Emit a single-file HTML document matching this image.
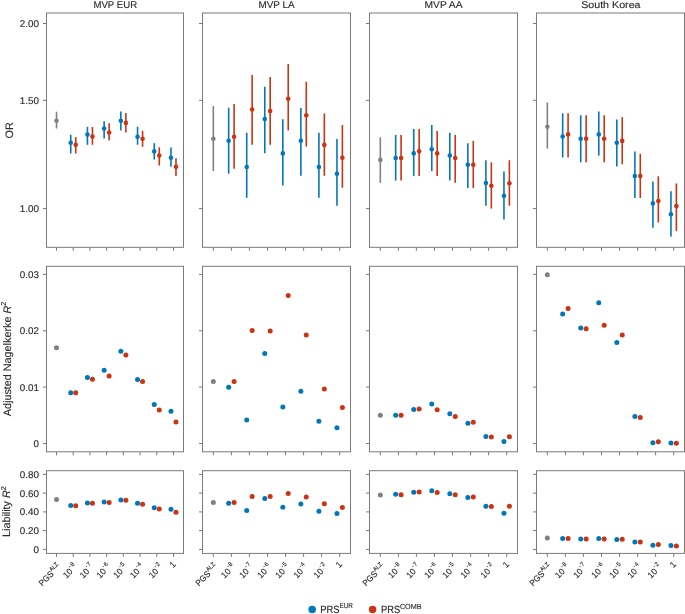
<!DOCTYPE html><html><head><meta charset="utf-8"><style>html,body{margin:0;padding:0;background:#fff;overflow:hidden;}svg{display:block;will-change:transform;}text{font-family:"Liberation Sans",sans-serif;text-rendering:geometricPrecision;stroke:#2b2b2b;stroke-width:0.14px;}</style></head><body>
<svg width="685" height="614" viewBox="0 0 685 614">
<rect width="685" height="614" fill="#fff"/>
<text x="115.25" y="7.8" font-size="9.8" fill="#2b2b2b" text-anchor="middle" textLength="43.7" lengthAdjust="spacingAndGlyphs">MVP EUR</text>
<text x="276.5" y="7.8" font-size="9.8" fill="#2b2b2b" text-anchor="middle" textLength="36.2" lengthAdjust="spacingAndGlyphs">MVP LA</text>
<text x="443.5" y="7.8" font-size="9.8" fill="#2b2b2b" text-anchor="middle" textLength="38.0" lengthAdjust="spacingAndGlyphs">MVP AA</text>
<text x="610.85" y="7.8" font-size="9.8" fill="#2b2b2b" text-anchor="middle" textLength="59.4" lengthAdjust="spacingAndGlyphs">South Korea</text>
<rect x="46.5" y="13.0" width="137.0" height="234.3" fill="none" stroke="#7a7a7a" stroke-width="1"/>
<line x1="43.0" y1="23.5" x2="46.5" y2="23.5" stroke="#7a7a7a" stroke-width="1"/>
<text x="38.9" y="26.9" font-size="9.8" fill="#2b2b2b" text-anchor="end">2.00</text>
<line x1="43.0" y1="100.3" x2="46.5" y2="100.3" stroke="#7a7a7a" stroke-width="1"/>
<text x="38.9" y="103.7" font-size="9.8" fill="#2b2b2b" text-anchor="end">1.50</text>
<line x1="43.0" y1="208.6" x2="46.5" y2="208.6" stroke="#7a7a7a" stroke-width="1"/>
<text x="38.9" y="212.0" font-size="9.8" fill="#2b2b2b" text-anchor="end">1.00</text>
<line x1="56.5" y1="247.3" x2="56.5" y2="250.8" stroke="#7a7a7a" stroke-width="1"/>
<line x1="73.2" y1="247.3" x2="73.2" y2="250.8" stroke="#7a7a7a" stroke-width="1"/>
<line x1="89.9" y1="247.3" x2="89.9" y2="250.8" stroke="#7a7a7a" stroke-width="1"/>
<line x1="106.6" y1="247.3" x2="106.6" y2="250.8" stroke="#7a7a7a" stroke-width="1"/>
<line x1="123.4" y1="247.3" x2="123.4" y2="250.8" stroke="#7a7a7a" stroke-width="1"/>
<line x1="140.1" y1="247.3" x2="140.1" y2="250.8" stroke="#7a7a7a" stroke-width="1"/>
<line x1="156.8" y1="247.3" x2="156.8" y2="250.8" stroke="#7a7a7a" stroke-width="1"/>
<line x1="173.5" y1="247.3" x2="173.5" y2="250.8" stroke="#7a7a7a" stroke-width="1"/>
<rect x="202.5" y="13.0" width="148.0" height="234.3" fill="none" stroke="#7a7a7a" stroke-width="1"/>
<line x1="199.0" y1="23.5" x2="202.5" y2="23.5" stroke="#7a7a7a" stroke-width="1"/>
<line x1="199.0" y1="100.3" x2="202.5" y2="100.3" stroke="#7a7a7a" stroke-width="1"/>
<line x1="199.0" y1="208.6" x2="202.5" y2="208.6" stroke="#7a7a7a" stroke-width="1"/>
<line x1="213.3" y1="247.3" x2="213.3" y2="250.8" stroke="#7a7a7a" stroke-width="1"/>
<line x1="231.4" y1="247.3" x2="231.4" y2="250.8" stroke="#7a7a7a" stroke-width="1"/>
<line x1="249.4" y1="247.3" x2="249.4" y2="250.8" stroke="#7a7a7a" stroke-width="1"/>
<line x1="267.5" y1="247.3" x2="267.5" y2="250.8" stroke="#7a7a7a" stroke-width="1"/>
<line x1="285.5" y1="247.3" x2="285.5" y2="250.8" stroke="#7a7a7a" stroke-width="1"/>
<line x1="303.6" y1="247.3" x2="303.6" y2="250.8" stroke="#7a7a7a" stroke-width="1"/>
<line x1="321.6" y1="247.3" x2="321.6" y2="250.8" stroke="#7a7a7a" stroke-width="1"/>
<line x1="339.7" y1="247.3" x2="339.7" y2="250.8" stroke="#7a7a7a" stroke-width="1"/>
<rect x="369.5" y="13.0" width="148.0" height="234.3" fill="none" stroke="#7a7a7a" stroke-width="1"/>
<line x1="366.0" y1="23.5" x2="369.5" y2="23.5" stroke="#7a7a7a" stroke-width="1"/>
<line x1="366.0" y1="100.3" x2="369.5" y2="100.3" stroke="#7a7a7a" stroke-width="1"/>
<line x1="366.0" y1="208.6" x2="369.5" y2="208.6" stroke="#7a7a7a" stroke-width="1"/>
<line x1="380.3" y1="247.3" x2="380.3" y2="250.8" stroke="#7a7a7a" stroke-width="1"/>
<line x1="398.4" y1="247.3" x2="398.4" y2="250.8" stroke="#7a7a7a" stroke-width="1"/>
<line x1="416.4" y1="247.3" x2="416.4" y2="250.8" stroke="#7a7a7a" stroke-width="1"/>
<line x1="434.5" y1="247.3" x2="434.5" y2="250.8" stroke="#7a7a7a" stroke-width="1"/>
<line x1="452.5" y1="247.3" x2="452.5" y2="250.8" stroke="#7a7a7a" stroke-width="1"/>
<line x1="470.6" y1="247.3" x2="470.6" y2="250.8" stroke="#7a7a7a" stroke-width="1"/>
<line x1="488.6" y1="247.3" x2="488.6" y2="250.8" stroke="#7a7a7a" stroke-width="1"/>
<line x1="506.7" y1="247.3" x2="506.7" y2="250.8" stroke="#7a7a7a" stroke-width="1"/>
<rect x="536.5" y="13.0" width="148.0" height="234.3" fill="none" stroke="#7a7a7a" stroke-width="1"/>
<line x1="533.0" y1="23.5" x2="536.5" y2="23.5" stroke="#7a7a7a" stroke-width="1"/>
<line x1="533.0" y1="100.3" x2="536.5" y2="100.3" stroke="#7a7a7a" stroke-width="1"/>
<line x1="533.0" y1="208.6" x2="536.5" y2="208.6" stroke="#7a7a7a" stroke-width="1"/>
<line x1="547.3" y1="247.3" x2="547.3" y2="250.8" stroke="#7a7a7a" stroke-width="1"/>
<line x1="565.4" y1="247.3" x2="565.4" y2="250.8" stroke="#7a7a7a" stroke-width="1"/>
<line x1="583.4" y1="247.3" x2="583.4" y2="250.8" stroke="#7a7a7a" stroke-width="1"/>
<line x1="601.5" y1="247.3" x2="601.5" y2="250.8" stroke="#7a7a7a" stroke-width="1"/>
<line x1="619.5" y1="247.3" x2="619.5" y2="250.8" stroke="#7a7a7a" stroke-width="1"/>
<line x1="637.6" y1="247.3" x2="637.6" y2="250.8" stroke="#7a7a7a" stroke-width="1"/>
<line x1="655.6" y1="247.3" x2="655.6" y2="250.8" stroke="#7a7a7a" stroke-width="1"/>
<line x1="673.7" y1="247.3" x2="673.7" y2="250.8" stroke="#7a7a7a" stroke-width="1"/>
<rect x="46.5" y="266.3" width="137.0" height="185.5" fill="none" stroke="#7a7a7a" stroke-width="1"/>
<line x1="43.0" y1="274.4" x2="46.5" y2="274.4" stroke="#7a7a7a" stroke-width="1"/>
<text x="38.9" y="277.8" font-size="9.8" fill="#2b2b2b" text-anchor="end">0.03</text>
<line x1="43.0" y1="330.8" x2="46.5" y2="330.8" stroke="#7a7a7a" stroke-width="1"/>
<text x="38.9" y="334.2" font-size="9.8" fill="#2b2b2b" text-anchor="end">0.02</text>
<line x1="43.0" y1="387.1" x2="46.5" y2="387.1" stroke="#7a7a7a" stroke-width="1"/>
<text x="38.9" y="390.5" font-size="9.8" fill="#2b2b2b" text-anchor="end">0.01</text>
<line x1="43.0" y1="443.5" x2="46.5" y2="443.5" stroke="#7a7a7a" stroke-width="1"/>
<text x="38.9" y="446.9" font-size="9.8" fill="#2b2b2b" text-anchor="end">0</text>
<line x1="56.5" y1="451.8" x2="56.5" y2="455.3" stroke="#7a7a7a" stroke-width="1"/>
<line x1="73.2" y1="451.8" x2="73.2" y2="455.3" stroke="#7a7a7a" stroke-width="1"/>
<line x1="89.9" y1="451.8" x2="89.9" y2="455.3" stroke="#7a7a7a" stroke-width="1"/>
<line x1="106.6" y1="451.8" x2="106.6" y2="455.3" stroke="#7a7a7a" stroke-width="1"/>
<line x1="123.4" y1="451.8" x2="123.4" y2="455.3" stroke="#7a7a7a" stroke-width="1"/>
<line x1="140.1" y1="451.8" x2="140.1" y2="455.3" stroke="#7a7a7a" stroke-width="1"/>
<line x1="156.8" y1="451.8" x2="156.8" y2="455.3" stroke="#7a7a7a" stroke-width="1"/>
<line x1="173.5" y1="451.8" x2="173.5" y2="455.3" stroke="#7a7a7a" stroke-width="1"/>
<rect x="202.5" y="266.3" width="148.0" height="185.5" fill="none" stroke="#7a7a7a" stroke-width="1"/>
<line x1="199.0" y1="274.4" x2="202.5" y2="274.4" stroke="#7a7a7a" stroke-width="1"/>
<line x1="199.0" y1="330.8" x2="202.5" y2="330.8" stroke="#7a7a7a" stroke-width="1"/>
<line x1="199.0" y1="387.1" x2="202.5" y2="387.1" stroke="#7a7a7a" stroke-width="1"/>
<line x1="199.0" y1="443.5" x2="202.5" y2="443.5" stroke="#7a7a7a" stroke-width="1"/>
<line x1="213.3" y1="451.8" x2="213.3" y2="455.3" stroke="#7a7a7a" stroke-width="1"/>
<line x1="231.4" y1="451.8" x2="231.4" y2="455.3" stroke="#7a7a7a" stroke-width="1"/>
<line x1="249.4" y1="451.8" x2="249.4" y2="455.3" stroke="#7a7a7a" stroke-width="1"/>
<line x1="267.5" y1="451.8" x2="267.5" y2="455.3" stroke="#7a7a7a" stroke-width="1"/>
<line x1="285.5" y1="451.8" x2="285.5" y2="455.3" stroke="#7a7a7a" stroke-width="1"/>
<line x1="303.6" y1="451.8" x2="303.6" y2="455.3" stroke="#7a7a7a" stroke-width="1"/>
<line x1="321.6" y1="451.8" x2="321.6" y2="455.3" stroke="#7a7a7a" stroke-width="1"/>
<line x1="339.7" y1="451.8" x2="339.7" y2="455.3" stroke="#7a7a7a" stroke-width="1"/>
<rect x="369.5" y="266.3" width="148.0" height="185.5" fill="none" stroke="#7a7a7a" stroke-width="1"/>
<line x1="366.0" y1="274.4" x2="369.5" y2="274.4" stroke="#7a7a7a" stroke-width="1"/>
<line x1="366.0" y1="330.8" x2="369.5" y2="330.8" stroke="#7a7a7a" stroke-width="1"/>
<line x1="366.0" y1="387.1" x2="369.5" y2="387.1" stroke="#7a7a7a" stroke-width="1"/>
<line x1="366.0" y1="443.5" x2="369.5" y2="443.5" stroke="#7a7a7a" stroke-width="1"/>
<line x1="380.3" y1="451.8" x2="380.3" y2="455.3" stroke="#7a7a7a" stroke-width="1"/>
<line x1="398.4" y1="451.8" x2="398.4" y2="455.3" stroke="#7a7a7a" stroke-width="1"/>
<line x1="416.4" y1="451.8" x2="416.4" y2="455.3" stroke="#7a7a7a" stroke-width="1"/>
<line x1="434.5" y1="451.8" x2="434.5" y2="455.3" stroke="#7a7a7a" stroke-width="1"/>
<line x1="452.5" y1="451.8" x2="452.5" y2="455.3" stroke="#7a7a7a" stroke-width="1"/>
<line x1="470.6" y1="451.8" x2="470.6" y2="455.3" stroke="#7a7a7a" stroke-width="1"/>
<line x1="488.6" y1="451.8" x2="488.6" y2="455.3" stroke="#7a7a7a" stroke-width="1"/>
<line x1="506.7" y1="451.8" x2="506.7" y2="455.3" stroke="#7a7a7a" stroke-width="1"/>
<rect x="536.5" y="266.3" width="148.0" height="185.5" fill="none" stroke="#7a7a7a" stroke-width="1"/>
<line x1="533.0" y1="274.4" x2="536.5" y2="274.4" stroke="#7a7a7a" stroke-width="1"/>
<line x1="533.0" y1="330.8" x2="536.5" y2="330.8" stroke="#7a7a7a" stroke-width="1"/>
<line x1="533.0" y1="387.1" x2="536.5" y2="387.1" stroke="#7a7a7a" stroke-width="1"/>
<line x1="533.0" y1="443.5" x2="536.5" y2="443.5" stroke="#7a7a7a" stroke-width="1"/>
<line x1="547.3" y1="451.8" x2="547.3" y2="455.3" stroke="#7a7a7a" stroke-width="1"/>
<line x1="565.4" y1="451.8" x2="565.4" y2="455.3" stroke="#7a7a7a" stroke-width="1"/>
<line x1="583.4" y1="451.8" x2="583.4" y2="455.3" stroke="#7a7a7a" stroke-width="1"/>
<line x1="601.5" y1="451.8" x2="601.5" y2="455.3" stroke="#7a7a7a" stroke-width="1"/>
<line x1="619.5" y1="451.8" x2="619.5" y2="455.3" stroke="#7a7a7a" stroke-width="1"/>
<line x1="637.6" y1="451.8" x2="637.6" y2="455.3" stroke="#7a7a7a" stroke-width="1"/>
<line x1="655.6" y1="451.8" x2="655.6" y2="455.3" stroke="#7a7a7a" stroke-width="1"/>
<line x1="673.7" y1="451.8" x2="673.7" y2="455.3" stroke="#7a7a7a" stroke-width="1"/>
<rect x="46.5" y="470.7" width="137.0" height="82.69999999999999" fill="none" stroke="#7a7a7a" stroke-width="1"/>
<line x1="43.0" y1="474.4" x2="46.5" y2="474.4" stroke="#7a7a7a" stroke-width="1"/>
<text x="38.9" y="477.8" font-size="9.8" fill="#2b2b2b" text-anchor="end">0.80</text>
<line x1="43.0" y1="493.1" x2="46.5" y2="493.1" stroke="#7a7a7a" stroke-width="1"/>
<text x="38.9" y="496.5" font-size="9.8" fill="#2b2b2b" text-anchor="end">0.60</text>
<line x1="43.0" y1="511.9" x2="46.5" y2="511.9" stroke="#7a7a7a" stroke-width="1"/>
<text x="38.9" y="515.3" font-size="9.8" fill="#2b2b2b" text-anchor="end">0.40</text>
<line x1="43.0" y1="530.6" x2="46.5" y2="530.6" stroke="#7a7a7a" stroke-width="1"/>
<text x="38.9" y="534.0" font-size="9.8" fill="#2b2b2b" text-anchor="end">0.20</text>
<line x1="43.0" y1="549.4" x2="46.5" y2="549.4" stroke="#7a7a7a" stroke-width="1"/>
<text x="38.9" y="552.8" font-size="9.8" fill="#2b2b2b" text-anchor="end">0</text>
<line x1="56.5" y1="553.4" x2="56.5" y2="556.9" stroke="#7a7a7a" stroke-width="1"/>
<line x1="73.2" y1="553.4" x2="73.2" y2="556.9" stroke="#7a7a7a" stroke-width="1"/>
<line x1="89.9" y1="553.4" x2="89.9" y2="556.9" stroke="#7a7a7a" stroke-width="1"/>
<line x1="106.6" y1="553.4" x2="106.6" y2="556.9" stroke="#7a7a7a" stroke-width="1"/>
<line x1="123.4" y1="553.4" x2="123.4" y2="556.9" stroke="#7a7a7a" stroke-width="1"/>
<line x1="140.1" y1="553.4" x2="140.1" y2="556.9" stroke="#7a7a7a" stroke-width="1"/>
<line x1="156.8" y1="553.4" x2="156.8" y2="556.9" stroke="#7a7a7a" stroke-width="1"/>
<line x1="173.5" y1="553.4" x2="173.5" y2="556.9" stroke="#7a7a7a" stroke-width="1"/>
<rect x="202.5" y="470.7" width="148.0" height="82.69999999999999" fill="none" stroke="#7a7a7a" stroke-width="1"/>
<line x1="199.0" y1="474.4" x2="202.5" y2="474.4" stroke="#7a7a7a" stroke-width="1"/>
<line x1="199.0" y1="493.1" x2="202.5" y2="493.1" stroke="#7a7a7a" stroke-width="1"/>
<line x1="199.0" y1="511.9" x2="202.5" y2="511.9" stroke="#7a7a7a" stroke-width="1"/>
<line x1="199.0" y1="530.6" x2="202.5" y2="530.6" stroke="#7a7a7a" stroke-width="1"/>
<line x1="199.0" y1="549.4" x2="202.5" y2="549.4" stroke="#7a7a7a" stroke-width="1"/>
<line x1="213.3" y1="553.4" x2="213.3" y2="556.9" stroke="#7a7a7a" stroke-width="1"/>
<line x1="231.4" y1="553.4" x2="231.4" y2="556.9" stroke="#7a7a7a" stroke-width="1"/>
<line x1="249.4" y1="553.4" x2="249.4" y2="556.9" stroke="#7a7a7a" stroke-width="1"/>
<line x1="267.5" y1="553.4" x2="267.5" y2="556.9" stroke="#7a7a7a" stroke-width="1"/>
<line x1="285.5" y1="553.4" x2="285.5" y2="556.9" stroke="#7a7a7a" stroke-width="1"/>
<line x1="303.6" y1="553.4" x2="303.6" y2="556.9" stroke="#7a7a7a" stroke-width="1"/>
<line x1="321.6" y1="553.4" x2="321.6" y2="556.9" stroke="#7a7a7a" stroke-width="1"/>
<line x1="339.7" y1="553.4" x2="339.7" y2="556.9" stroke="#7a7a7a" stroke-width="1"/>
<rect x="369.5" y="470.7" width="148.0" height="82.69999999999999" fill="none" stroke="#7a7a7a" stroke-width="1"/>
<line x1="366.0" y1="474.4" x2="369.5" y2="474.4" stroke="#7a7a7a" stroke-width="1"/>
<line x1="366.0" y1="493.1" x2="369.5" y2="493.1" stroke="#7a7a7a" stroke-width="1"/>
<line x1="366.0" y1="511.9" x2="369.5" y2="511.9" stroke="#7a7a7a" stroke-width="1"/>
<line x1="366.0" y1="530.6" x2="369.5" y2="530.6" stroke="#7a7a7a" stroke-width="1"/>
<line x1="366.0" y1="549.4" x2="369.5" y2="549.4" stroke="#7a7a7a" stroke-width="1"/>
<line x1="380.3" y1="553.4" x2="380.3" y2="556.9" stroke="#7a7a7a" stroke-width="1"/>
<line x1="398.4" y1="553.4" x2="398.4" y2="556.9" stroke="#7a7a7a" stroke-width="1"/>
<line x1="416.4" y1="553.4" x2="416.4" y2="556.9" stroke="#7a7a7a" stroke-width="1"/>
<line x1="434.5" y1="553.4" x2="434.5" y2="556.9" stroke="#7a7a7a" stroke-width="1"/>
<line x1="452.5" y1="553.4" x2="452.5" y2="556.9" stroke="#7a7a7a" stroke-width="1"/>
<line x1="470.6" y1="553.4" x2="470.6" y2="556.9" stroke="#7a7a7a" stroke-width="1"/>
<line x1="488.6" y1="553.4" x2="488.6" y2="556.9" stroke="#7a7a7a" stroke-width="1"/>
<line x1="506.7" y1="553.4" x2="506.7" y2="556.9" stroke="#7a7a7a" stroke-width="1"/>
<rect x="536.5" y="470.7" width="148.0" height="82.69999999999999" fill="none" stroke="#7a7a7a" stroke-width="1"/>
<line x1="533.0" y1="474.4" x2="536.5" y2="474.4" stroke="#7a7a7a" stroke-width="1"/>
<line x1="533.0" y1="493.1" x2="536.5" y2="493.1" stroke="#7a7a7a" stroke-width="1"/>
<line x1="533.0" y1="511.9" x2="536.5" y2="511.9" stroke="#7a7a7a" stroke-width="1"/>
<line x1="533.0" y1="530.6" x2="536.5" y2="530.6" stroke="#7a7a7a" stroke-width="1"/>
<line x1="533.0" y1="549.4" x2="536.5" y2="549.4" stroke="#7a7a7a" stroke-width="1"/>
<line x1="547.3" y1="553.4" x2="547.3" y2="556.9" stroke="#7a7a7a" stroke-width="1"/>
<line x1="565.4" y1="553.4" x2="565.4" y2="556.9" stroke="#7a7a7a" stroke-width="1"/>
<line x1="583.4" y1="553.4" x2="583.4" y2="556.9" stroke="#7a7a7a" stroke-width="1"/>
<line x1="601.5" y1="553.4" x2="601.5" y2="556.9" stroke="#7a7a7a" stroke-width="1"/>
<line x1="619.5" y1="553.4" x2="619.5" y2="556.9" stroke="#7a7a7a" stroke-width="1"/>
<line x1="637.6" y1="553.4" x2="637.6" y2="556.9" stroke="#7a7a7a" stroke-width="1"/>
<line x1="655.6" y1="553.4" x2="655.6" y2="556.9" stroke="#7a7a7a" stroke-width="1"/>
<line x1="673.7" y1="553.4" x2="673.7" y2="556.9" stroke="#7a7a7a" stroke-width="1"/>
<text transform="translate(12.9,130.3) rotate(-90)" font-size="10.8" fill="#2b2b2b" text-anchor="middle">OR</text>
<text transform="translate(10.9,359.0) rotate(-90)" font-size="10.8" fill="#2b2b2b" text-anchor="middle">Adjusted Nagelkerke <tspan font-style="italic">R</tspan><tspan font-size="7.2" dy="-4.6">2</tspan></text>
<text transform="translate(10.4,511.6) rotate(-90)" font-size="10.8" fill="#2b2b2b" text-anchor="middle">Liability <tspan font-style="italic">R</tspan><tspan font-size="7.2" dy="-4.6">2</tspan></text>
<line x1="56.52" y1="111.7" x2="56.52" y2="128.5" stroke="#808080" stroke-width="1.6"/>
<circle cx="56.52" cy="120.7" r="2.3" fill="#808080"/>
<line x1="70.73" y1="134.8" x2="70.73" y2="153.5" stroke="#0077BB" stroke-width="1.6"/>
<circle cx="70.73" cy="142.8" r="2.3" fill="#0077BB"/>
<line x1="75.74" y1="137.1" x2="75.74" y2="153.5" stroke="#CC3311" stroke-width="1.6"/>
<circle cx="75.74" cy="144.8" r="2.3" fill="#CC3311"/>
<line x1="87.43" y1="126.9" x2="87.43" y2="144.8" stroke="#0077BB" stroke-width="1.6"/>
<circle cx="87.43" cy="134.6" r="2.3" fill="#0077BB"/>
<line x1="92.45" y1="127.0" x2="92.45" y2="144.8" stroke="#CC3311" stroke-width="1.6"/>
<circle cx="92.45" cy="136.6" r="2.3" fill="#CC3311"/>
<line x1="104.14" y1="121.2" x2="104.14" y2="138.6" stroke="#0077BB" stroke-width="1.6"/>
<circle cx="104.14" cy="128.6" r="2.3" fill="#0077BB"/>
<line x1="109.15" y1="123.2" x2="109.15" y2="140.6" stroke="#CC3311" stroke-width="1.6"/>
<circle cx="109.15" cy="132.5" r="2.3" fill="#CC3311"/>
<line x1="120.85" y1="111.4" x2="120.85" y2="130.6" stroke="#0077BB" stroke-width="1.6"/>
<circle cx="120.85" cy="120.7" r="2.3" fill="#0077BB"/>
<line x1="125.86" y1="113.1" x2="125.86" y2="132.5" stroke="#CC3311" stroke-width="1.6"/>
<circle cx="125.86" cy="122.9" r="2.3" fill="#CC3311"/>
<line x1="137.55" y1="126.8" x2="137.55" y2="144.7" stroke="#0077BB" stroke-width="1.6"/>
<circle cx="137.55" cy="136.8" r="2.3" fill="#0077BB"/>
<line x1="142.57" y1="130.8" x2="142.57" y2="146.8" stroke="#CC3311" stroke-width="1.6"/>
<circle cx="142.57" cy="138.8" r="2.3" fill="#CC3311"/>
<line x1="154.26" y1="143.2" x2="154.26" y2="159.6" stroke="#0077BB" stroke-width="1.6"/>
<circle cx="154.26" cy="151.4" r="2.3" fill="#0077BB"/>
<line x1="159.27" y1="147.3" x2="159.27" y2="165.5" stroke="#CC3311" stroke-width="1.6"/>
<circle cx="159.27" cy="155.6" r="2.3" fill="#CC3311"/>
<line x1="170.97" y1="147.4" x2="170.97" y2="166.8" stroke="#0077BB" stroke-width="1.6"/>
<circle cx="170.97" cy="157.8" r="2.3" fill="#0077BB"/>
<line x1="175.98" y1="158.3" x2="175.98" y2="175.9" stroke="#CC3311" stroke-width="1.6"/>
<circle cx="175.98" cy="166.8" r="2.3" fill="#CC3311"/>
<line x1="213.33" y1="106.1" x2="213.33" y2="171.1" stroke="#808080" stroke-width="1.6"/>
<circle cx="213.33" cy="138.7" r="2.3" fill="#808080"/>
<line x1="228.67" y1="107.7" x2="228.67" y2="173.7" stroke="#0077BB" stroke-width="1.6"/>
<circle cx="228.67" cy="140.8" r="2.3" fill="#0077BB"/>
<line x1="234.09" y1="104.1" x2="234.09" y2="168.7" stroke="#CC3311" stroke-width="1.6"/>
<circle cx="234.09" cy="136.7" r="2.3" fill="#CC3311"/>
<line x1="246.72" y1="132.7" x2="246.72" y2="197.8" stroke="#0077BB" stroke-width="1.6"/>
<circle cx="246.72" cy="167.0" r="2.3" fill="#0077BB"/>
<line x1="252.13" y1="75.1" x2="252.13" y2="144.8" stroke="#CC3311" stroke-width="1.6"/>
<circle cx="252.13" cy="109.5" r="2.3" fill="#CC3311"/>
<line x1="264.77" y1="86.7" x2="264.77" y2="153.2" stroke="#0077BB" stroke-width="1.6"/>
<circle cx="264.77" cy="119.0" r="2.3" fill="#0077BB"/>
<line x1="270.18" y1="77.0" x2="270.18" y2="144.8" stroke="#CC3311" stroke-width="1.6"/>
<circle cx="270.18" cy="111.1" r="2.3" fill="#CC3311"/>
<line x1="282.82" y1="119.3" x2="282.82" y2="185.5" stroke="#0077BB" stroke-width="1.6"/>
<circle cx="282.82" cy="153.4" r="2.3" fill="#0077BB"/>
<line x1="288.23" y1="64.1" x2="288.23" y2="130.4" stroke="#CC3311" stroke-width="1.6"/>
<circle cx="288.23" cy="98.8" r="2.3" fill="#CC3311"/>
<line x1="300.87" y1="107.9" x2="300.87" y2="175.8" stroke="#0077BB" stroke-width="1.6"/>
<circle cx="300.87" cy="140.8" r="2.3" fill="#0077BB"/>
<line x1="306.28" y1="81.7" x2="306.28" y2="146.5" stroke="#CC3311" stroke-width="1.6"/>
<circle cx="306.28" cy="115.3" r="2.3" fill="#CC3311"/>
<line x1="318.91" y1="132.7" x2="318.91" y2="197.8" stroke="#0077BB" stroke-width="1.6"/>
<circle cx="318.91" cy="167.0" r="2.3" fill="#0077BB"/>
<line x1="324.33" y1="113.4" x2="324.33" y2="175.8" stroke="#CC3311" stroke-width="1.6"/>
<circle cx="324.33" cy="144.9" r="2.3" fill="#CC3311"/>
<line x1="336.96" y1="138.9" x2="336.96" y2="205.7" stroke="#0077BB" stroke-width="1.6"/>
<circle cx="336.96" cy="173.8" r="2.3" fill="#0077BB"/>
<line x1="342.38" y1="125.0" x2="342.38" y2="187.7" stroke="#CC3311" stroke-width="1.6"/>
<circle cx="342.38" cy="157.8" r="2.3" fill="#CC3311"/>
<line x1="380.33" y1="137.3" x2="380.33" y2="182.9" stroke="#808080" stroke-width="1.6"/>
<circle cx="380.33" cy="159.9" r="2.3" fill="#808080"/>
<line x1="395.67" y1="134.9" x2="395.67" y2="180.6" stroke="#0077BB" stroke-width="1.6"/>
<circle cx="395.67" cy="158.0" r="2.3" fill="#0077BB"/>
<line x1="401.09" y1="134.9" x2="401.09" y2="180.6" stroke="#CC3311" stroke-width="1.6"/>
<circle cx="401.09" cy="158.0" r="2.3" fill="#CC3311"/>
<line x1="413.72" y1="129.0" x2="413.72" y2="175.9" stroke="#0077BB" stroke-width="1.6"/>
<circle cx="413.72" cy="153.4" r="2.3" fill="#0077BB"/>
<line x1="419.13" y1="129.0" x2="419.13" y2="175.9" stroke="#CC3311" stroke-width="1.6"/>
<circle cx="419.13" cy="151.3" r="2.3" fill="#CC3311"/>
<line x1="431.77" y1="125.0" x2="431.77" y2="171.1" stroke="#0077BB" stroke-width="1.6"/>
<circle cx="431.77" cy="149.2" r="2.3" fill="#0077BB"/>
<line x1="437.18" y1="130.9" x2="437.18" y2="175.9" stroke="#CC3311" stroke-width="1.6"/>
<circle cx="437.18" cy="153.4" r="2.3" fill="#CC3311"/>
<line x1="449.82" y1="132.7" x2="449.82" y2="180.4" stroke="#0077BB" stroke-width="1.6"/>
<circle cx="449.82" cy="155.6" r="2.3" fill="#0077BB"/>
<line x1="455.23" y1="134.9" x2="455.23" y2="182.8" stroke="#CC3311" stroke-width="1.6"/>
<circle cx="455.23" cy="158.0" r="2.3" fill="#CC3311"/>
<line x1="467.87" y1="143.2" x2="467.87" y2="188.0" stroke="#0077BB" stroke-width="1.6"/>
<circle cx="467.87" cy="164.7" r="2.3" fill="#0077BB"/>
<line x1="473.28" y1="141.0" x2="473.28" y2="188.0" stroke="#CC3311" stroke-width="1.6"/>
<circle cx="473.28" cy="164.7" r="2.3" fill="#CC3311"/>
<line x1="485.91" y1="160.2" x2="485.91" y2="205.7" stroke="#0077BB" stroke-width="1.6"/>
<circle cx="485.91" cy="183.1" r="2.3" fill="#0077BB"/>
<line x1="491.33" y1="162.3" x2="491.33" y2="208.6" stroke="#CC3311" stroke-width="1.6"/>
<circle cx="491.33" cy="185.8" r="2.3" fill="#CC3311"/>
<line x1="503.96" y1="171.5" x2="503.96" y2="219.5" stroke="#0077BB" stroke-width="1.6"/>
<circle cx="503.96" cy="195.8" r="2.3" fill="#0077BB"/>
<line x1="509.38" y1="160.2" x2="509.38" y2="205.7" stroke="#CC3311" stroke-width="1.6"/>
<circle cx="509.38" cy="183.3" r="2.3" fill="#CC3311"/>
<line x1="547.33" y1="102.6" x2="547.33" y2="148.6" stroke="#808080" stroke-width="1.6"/>
<circle cx="547.33" cy="126.8" r="2.3" fill="#808080"/>
<line x1="562.67" y1="113.3" x2="562.67" y2="157.5" stroke="#0077BB" stroke-width="1.6"/>
<circle cx="562.67" cy="136.6" r="2.3" fill="#0077BB"/>
<line x1="568.09" y1="113.3" x2="568.09" y2="157.5" stroke="#CC3311" stroke-width="1.6"/>
<circle cx="568.09" cy="134.4" r="2.3" fill="#CC3311"/>
<line x1="580.72" y1="115.3" x2="580.72" y2="162.3" stroke="#0077BB" stroke-width="1.6"/>
<circle cx="580.72" cy="138.7" r="2.3" fill="#0077BB"/>
<line x1="586.13" y1="115.3" x2="586.13" y2="162.3" stroke="#CC3311" stroke-width="1.6"/>
<circle cx="586.13" cy="138.7" r="2.3" fill="#CC3311"/>
<line x1="598.77" y1="111.5" x2="598.77" y2="155.6" stroke="#0077BB" stroke-width="1.6"/>
<circle cx="598.77" cy="134.4" r="2.3" fill="#0077BB"/>
<line x1="604.18" y1="115.3" x2="604.18" y2="162.3" stroke="#CC3311" stroke-width="1.6"/>
<circle cx="604.18" cy="138.7" r="2.3" fill="#CC3311"/>
<line x1="616.82" y1="119.4" x2="616.82" y2="166.5" stroke="#0077BB" stroke-width="1.6"/>
<circle cx="616.82" cy="142.8" r="2.3" fill="#0077BB"/>
<line x1="622.23" y1="117.2" x2="622.23" y2="164.2" stroke="#CC3311" stroke-width="1.6"/>
<circle cx="622.23" cy="140.9" r="2.3" fill="#CC3311"/>
<line x1="634.87" y1="151.6" x2="634.87" y2="198.0" stroke="#0077BB" stroke-width="1.6"/>
<circle cx="634.87" cy="176.1" r="2.3" fill="#0077BB"/>
<line x1="640.28" y1="153.8" x2="640.28" y2="198.0" stroke="#CC3311" stroke-width="1.6"/>
<circle cx="640.28" cy="176.1" r="2.3" fill="#CC3311"/>
<line x1="652.91" y1="181.4" x2="652.91" y2="227.8" stroke="#0077BB" stroke-width="1.6"/>
<circle cx="652.91" cy="203.4" r="2.3" fill="#0077BB"/>
<line x1="658.33" y1="176.3" x2="658.33" y2="222.5" stroke="#CC3311" stroke-width="1.6"/>
<circle cx="658.33" cy="201.0" r="2.3" fill="#CC3311"/>
<line x1="670.96" y1="191.2" x2="670.96" y2="236.6" stroke="#0077BB" stroke-width="1.6"/>
<circle cx="670.96" cy="214.2" r="2.3" fill="#0077BB"/>
<line x1="676.38" y1="183.5" x2="676.38" y2="230.9" stroke="#CC3311" stroke-width="1.6"/>
<circle cx="676.38" cy="206.1" r="2.3" fill="#CC3311"/>
<circle cx="56.52" cy="347.7" r="2.5" fill="#808080"/>
<circle cx="70.73" cy="392.7" r="2.5" fill="#0077BB"/>
<circle cx="75.74" cy="392.7" r="2.5" fill="#CC3311"/>
<circle cx="87.43" cy="377.5" r="2.5" fill="#0077BB"/>
<circle cx="92.45" cy="379.2" r="2.5" fill="#CC3311"/>
<circle cx="104.14" cy="370.3" r="2.5" fill="#0077BB"/>
<circle cx="109.15" cy="375.9" r="2.5" fill="#CC3311"/>
<circle cx="120.85" cy="351.3" r="2.5" fill="#0077BB"/>
<circle cx="125.86" cy="355.1" r="2.5" fill="#CC3311"/>
<circle cx="137.55" cy="379.5" r="2.5" fill="#0077BB"/>
<circle cx="142.57" cy="381.6" r="2.5" fill="#CC3311"/>
<circle cx="154.26" cy="404.4" r="2.5" fill="#0077BB"/>
<circle cx="159.27" cy="410.1" r="2.5" fill="#CC3311"/>
<circle cx="170.97" cy="411.3" r="2.5" fill="#0077BB"/>
<circle cx="175.98" cy="422.1" r="2.5" fill="#CC3311"/>
<circle cx="213.33" cy="381.5" r="2.5" fill="#808080"/>
<circle cx="228.67" cy="387.2" r="2.5" fill="#0077BB"/>
<circle cx="234.09" cy="381.5" r="2.5" fill="#CC3311"/>
<circle cx="246.72" cy="420.0" r="2.5" fill="#0077BB"/>
<circle cx="252.13" cy="330.4" r="2.5" fill="#CC3311"/>
<circle cx="264.77" cy="353.5" r="2.5" fill="#0077BB"/>
<circle cx="270.18" cy="331.0" r="2.5" fill="#CC3311"/>
<circle cx="282.82" cy="407.1" r="2.5" fill="#0077BB"/>
<circle cx="288.23" cy="295.6" r="2.5" fill="#CC3311"/>
<circle cx="300.87" cy="391.3" r="2.5" fill="#0077BB"/>
<circle cx="306.28" cy="335.1" r="2.5" fill="#CC3311"/>
<circle cx="318.91" cy="421.3" r="2.5" fill="#0077BB"/>
<circle cx="324.33" cy="389.0" r="2.5" fill="#CC3311"/>
<circle cx="336.96" cy="427.8" r="2.5" fill="#0077BB"/>
<circle cx="342.38" cy="407.4" r="2.5" fill="#CC3311"/>
<circle cx="380.33" cy="415.3" r="2.5" fill="#808080"/>
<circle cx="395.67" cy="415.3" r="2.5" fill="#0077BB"/>
<circle cx="401.09" cy="415.3" r="2.5" fill="#CC3311"/>
<circle cx="413.72" cy="409.6" r="2.5" fill="#0077BB"/>
<circle cx="419.13" cy="409.0" r="2.5" fill="#CC3311"/>
<circle cx="431.77" cy="404.0" r="2.5" fill="#0077BB"/>
<circle cx="437.18" cy="409.8" r="2.5" fill="#CC3311"/>
<circle cx="449.82" cy="413.7" r="2.5" fill="#0077BB"/>
<circle cx="455.23" cy="416.6" r="2.5" fill="#CC3311"/>
<circle cx="467.87" cy="423.3" r="2.5" fill="#0077BB"/>
<circle cx="473.28" cy="422.2" r="2.5" fill="#CC3311"/>
<circle cx="485.91" cy="436.5" r="2.5" fill="#0077BB"/>
<circle cx="491.33" cy="437.0" r="2.5" fill="#CC3311"/>
<circle cx="503.96" cy="441.5" r="2.5" fill="#0077BB"/>
<circle cx="509.38" cy="436.7" r="2.5" fill="#CC3311"/>
<circle cx="547.33" cy="274.7" r="2.5" fill="#808080"/>
<circle cx="562.67" cy="314.1" r="2.5" fill="#0077BB"/>
<circle cx="568.09" cy="308.5" r="2.5" fill="#CC3311"/>
<circle cx="580.72" cy="328.0" r="2.5" fill="#0077BB"/>
<circle cx="586.13" cy="328.8" r="2.5" fill="#CC3311"/>
<circle cx="598.77" cy="302.8" r="2.5" fill="#0077BB"/>
<circle cx="604.18" cy="325.3" r="2.5" fill="#CC3311"/>
<circle cx="616.82" cy="342.4" r="2.5" fill="#0077BB"/>
<circle cx="622.23" cy="335.1" r="2.5" fill="#CC3311"/>
<circle cx="634.87" cy="416.4" r="2.5" fill="#0077BB"/>
<circle cx="640.28" cy="417.5" r="2.5" fill="#CC3311"/>
<circle cx="652.91" cy="442.7" r="2.5" fill="#0077BB"/>
<circle cx="658.33" cy="441.7" r="2.5" fill="#CC3311"/>
<circle cx="670.96" cy="443.0" r="2.5" fill="#0077BB"/>
<circle cx="676.38" cy="443.3" r="2.5" fill="#CC3311"/>
<circle cx="56.52" cy="499.6" r="2.5" fill="#808080"/>
<circle cx="70.73" cy="505.5" r="2.5" fill="#0077BB"/>
<circle cx="75.74" cy="505.8" r="2.5" fill="#CC3311"/>
<circle cx="87.43" cy="503.1" r="2.5" fill="#0077BB"/>
<circle cx="92.45" cy="503.3" r="2.5" fill="#CC3311"/>
<circle cx="104.14" cy="502.0" r="2.5" fill="#0077BB"/>
<circle cx="109.15" cy="502.4" r="2.5" fill="#CC3311"/>
<circle cx="120.85" cy="499.9" r="2.5" fill="#0077BB"/>
<circle cx="125.86" cy="500.2" r="2.5" fill="#CC3311"/>
<circle cx="137.55" cy="503.3" r="2.5" fill="#0077BB"/>
<circle cx="142.57" cy="504.2" r="2.5" fill="#CC3311"/>
<circle cx="154.26" cy="507.7" r="2.5" fill="#0077BB"/>
<circle cx="159.27" cy="509.0" r="2.5" fill="#CC3311"/>
<circle cx="170.97" cy="509.2" r="2.5" fill="#0077BB"/>
<circle cx="175.98" cy="512.3" r="2.5" fill="#CC3311"/>
<circle cx="213.33" cy="502.4" r="2.5" fill="#808080"/>
<circle cx="228.67" cy="503.3" r="2.5" fill="#0077BB"/>
<circle cx="234.09" cy="502.4" r="2.5" fill="#CC3311"/>
<circle cx="246.72" cy="510.6" r="2.5" fill="#0077BB"/>
<circle cx="252.13" cy="496.5" r="2.5" fill="#CC3311"/>
<circle cx="264.77" cy="498.6" r="2.5" fill="#0077BB"/>
<circle cx="270.18" cy="496.5" r="2.5" fill="#CC3311"/>
<circle cx="282.82" cy="507.2" r="2.5" fill="#0077BB"/>
<circle cx="288.23" cy="493.4" r="2.5" fill="#CC3311"/>
<circle cx="300.87" cy="504.0" r="2.5" fill="#0077BB"/>
<circle cx="306.28" cy="496.9" r="2.5" fill="#CC3311"/>
<circle cx="318.91" cy="511.2" r="2.5" fill="#0077BB"/>
<circle cx="324.33" cy="503.7" r="2.5" fill="#CC3311"/>
<circle cx="336.96" cy="513.5" r="2.5" fill="#0077BB"/>
<circle cx="342.38" cy="507.4" r="2.5" fill="#CC3311"/>
<circle cx="380.33" cy="495.1" r="2.5" fill="#808080"/>
<circle cx="395.67" cy="494.2" r="2.5" fill="#0077BB"/>
<circle cx="401.09" cy="494.7" r="2.5" fill="#CC3311"/>
<circle cx="413.72" cy="492.3" r="2.5" fill="#0077BB"/>
<circle cx="419.13" cy="492.0" r="2.5" fill="#CC3311"/>
<circle cx="431.77" cy="490.8" r="2.5" fill="#0077BB"/>
<circle cx="437.18" cy="492.6" r="2.5" fill="#CC3311"/>
<circle cx="449.82" cy="493.7" r="2.5" fill="#0077BB"/>
<circle cx="455.23" cy="494.7" r="2.5" fill="#CC3311"/>
<circle cx="467.87" cy="497.6" r="2.5" fill="#0077BB"/>
<circle cx="473.28" cy="496.9" r="2.5" fill="#CC3311"/>
<circle cx="485.91" cy="506.2" r="2.5" fill="#0077BB"/>
<circle cx="491.33" cy="506.6" r="2.5" fill="#CC3311"/>
<circle cx="503.96" cy="513.3" r="2.5" fill="#0077BB"/>
<circle cx="509.38" cy="506.3" r="2.5" fill="#CC3311"/>
<circle cx="547.33" cy="538.0" r="2.5" fill="#808080"/>
<circle cx="562.67" cy="538.5" r="2.5" fill="#0077BB"/>
<circle cx="568.09" cy="538.5" r="2.5" fill="#CC3311"/>
<circle cx="580.72" cy="538.9" r="2.5" fill="#0077BB"/>
<circle cx="586.13" cy="538.9" r="2.5" fill="#CC3311"/>
<circle cx="598.77" cy="538.4" r="2.5" fill="#0077BB"/>
<circle cx="604.18" cy="538.9" r="2.5" fill="#CC3311"/>
<circle cx="616.82" cy="539.5" r="2.5" fill="#0077BB"/>
<circle cx="622.23" cy="539.2" r="2.5" fill="#CC3311"/>
<circle cx="634.87" cy="541.9" r="2.5" fill="#0077BB"/>
<circle cx="640.28" cy="541.9" r="2.5" fill="#CC3311"/>
<circle cx="652.91" cy="545.2" r="2.5" fill="#0077BB"/>
<circle cx="658.33" cy="544.6" r="2.5" fill="#CC3311"/>
<circle cx="670.96" cy="545.4" r="2.5" fill="#0077BB"/>
<circle cx="676.38" cy="545.9" r="2.5" fill="#CC3311"/>
<text transform="translate(61.47,567.25) rotate(-45) scale(0.93,1)" font-size="8.6" fill="#2b2b2b" text-anchor="end">PGS<tspan font-size="6.0" dy="-3.8">ALZ</tspan></text>
<text transform="translate(77.78,567.35) rotate(-45)" font-size="8.6" fill="#2b2b2b" text-anchor="end">10<tspan font-size="6.0" dy="-4.7" dx="0.5">-</tspan><tspan font-size="6.0" dy="0.4" dx="0.6">8</tspan></text>
<text transform="translate(94.48,567.35) rotate(-45)" font-size="8.6" fill="#2b2b2b" text-anchor="end">10<tspan font-size="6.0" dy="-4.7" dx="0.5">-</tspan><tspan font-size="6.0" dy="0.4" dx="0.6">7</tspan></text>
<text transform="translate(111.29,567.35) rotate(-45)" font-size="8.6" fill="#2b2b2b" text-anchor="end">10<tspan font-size="6.0" dy="-4.7" dx="0.5">-</tspan><tspan font-size="6.0" dy="0.4" dx="0.6">6</tspan></text>
<text transform="translate(128.00,567.35) rotate(-45)" font-size="8.6" fill="#2b2b2b" text-anchor="end">10<tspan font-size="6.0" dy="-4.7" dx="0.5">-</tspan><tspan font-size="6.0" dy="0.4" dx="0.6">5</tspan></text>
<text transform="translate(144.71,567.35) rotate(-45)" font-size="8.6" fill="#2b2b2b" text-anchor="end">10<tspan font-size="6.0" dy="-4.7" dx="0.5">-</tspan><tspan font-size="6.0" dy="0.4" dx="0.6">4</tspan></text>
<text transform="translate(163.51,567.35) rotate(-45)" font-size="8.6" fill="#2b2b2b" text-anchor="end">10<tspan font-size="6.0" dy="-4.7" dx="0.5">-</tspan><tspan font-size="6.0" dy="0.4" dx="0.6">2</tspan></text>
<text transform="translate(176.47,564.99) rotate(-45)" font-size="8.6" fill="#2b2b2b" text-anchor="end">1</text>
<text transform="translate(218.27,567.25) rotate(-45) scale(0.93,1)" font-size="8.6" fill="#2b2b2b" text-anchor="end">PGS<tspan font-size="6.0" dy="-3.8">ALZ</tspan></text>
<text transform="translate(235.92,567.35) rotate(-45)" font-size="8.6" fill="#2b2b2b" text-anchor="end">10<tspan font-size="6.0" dy="-4.7" dx="0.5">-</tspan><tspan font-size="6.0" dy="0.4" dx="0.6">8</tspan></text>
<text transform="translate(253.97,567.35) rotate(-45)" font-size="8.6" fill="#2b2b2b" text-anchor="end">10<tspan font-size="6.0" dy="-4.7" dx="0.5">-</tspan><tspan font-size="6.0" dy="0.4" dx="0.6">7</tspan></text>
<text transform="translate(272.12,567.35) rotate(-45)" font-size="8.6" fill="#2b2b2b" text-anchor="end">10<tspan font-size="6.0" dy="-4.7" dx="0.5">-</tspan><tspan font-size="6.0" dy="0.4" dx="0.6">6</tspan></text>
<text transform="translate(290.17,567.35) rotate(-45)" font-size="8.6" fill="#2b2b2b" text-anchor="end">10<tspan font-size="6.0" dy="-4.7" dx="0.5">-</tspan><tspan font-size="6.0" dy="0.4" dx="0.6">5</tspan></text>
<text transform="translate(308.22,567.35) rotate(-45)" font-size="8.6" fill="#2b2b2b" text-anchor="end">10<tspan font-size="6.0" dy="-4.7" dx="0.5">-</tspan><tspan font-size="6.0" dy="0.4" dx="0.6">4</tspan></text>
<text transform="translate(328.37,567.35) rotate(-45)" font-size="8.6" fill="#2b2b2b" text-anchor="end">10<tspan font-size="6.0" dy="-4.7" dx="0.5">-</tspan><tspan font-size="6.0" dy="0.4" dx="0.6">2</tspan></text>
<text transform="translate(342.66,564.99) rotate(-45)" font-size="8.6" fill="#2b2b2b" text-anchor="end">1</text>
<text transform="translate(385.27,567.25) rotate(-45) scale(0.93,1)" font-size="8.6" fill="#2b2b2b" text-anchor="end">PGS<tspan font-size="6.0" dy="-3.8">ALZ</tspan></text>
<text transform="translate(402.92,567.35) rotate(-45)" font-size="8.6" fill="#2b2b2b" text-anchor="end">10<tspan font-size="6.0" dy="-4.7" dx="0.5">-</tspan><tspan font-size="6.0" dy="0.4" dx="0.6">8</tspan></text>
<text transform="translate(420.97,567.35) rotate(-45)" font-size="8.6" fill="#2b2b2b" text-anchor="end">10<tspan font-size="6.0" dy="-4.7" dx="0.5">-</tspan><tspan font-size="6.0" dy="0.4" dx="0.6">7</tspan></text>
<text transform="translate(439.12,567.35) rotate(-45)" font-size="8.6" fill="#2b2b2b" text-anchor="end">10<tspan font-size="6.0" dy="-4.7" dx="0.5">-</tspan><tspan font-size="6.0" dy="0.4" dx="0.6">6</tspan></text>
<text transform="translate(457.17,567.35) rotate(-45)" font-size="8.6" fill="#2b2b2b" text-anchor="end">10<tspan font-size="6.0" dy="-4.7" dx="0.5">-</tspan><tspan font-size="6.0" dy="0.4" dx="0.6">5</tspan></text>
<text transform="translate(475.22,567.35) rotate(-45)" font-size="8.6" fill="#2b2b2b" text-anchor="end">10<tspan font-size="6.0" dy="-4.7" dx="0.5">-</tspan><tspan font-size="6.0" dy="0.4" dx="0.6">4</tspan></text>
<text transform="translate(495.37,567.35) rotate(-45)" font-size="8.6" fill="#2b2b2b" text-anchor="end">10<tspan font-size="6.0" dy="-4.7" dx="0.5">-</tspan><tspan font-size="6.0" dy="0.4" dx="0.6">2</tspan></text>
<text transform="translate(509.66,564.99) rotate(-45)" font-size="8.6" fill="#2b2b2b" text-anchor="end">1</text>
<text transform="translate(552.27,567.25) rotate(-45) scale(0.93,1)" font-size="8.6" fill="#2b2b2b" text-anchor="end">PGS<tspan font-size="6.0" dy="-3.8">ALZ</tspan></text>
<text transform="translate(569.92,567.35) rotate(-45)" font-size="8.6" fill="#2b2b2b" text-anchor="end">10<tspan font-size="6.0" dy="-4.7" dx="0.5">-</tspan><tspan font-size="6.0" dy="0.4" dx="0.6">8</tspan></text>
<text transform="translate(587.97,567.35) rotate(-45)" font-size="8.6" fill="#2b2b2b" text-anchor="end">10<tspan font-size="6.0" dy="-4.7" dx="0.5">-</tspan><tspan font-size="6.0" dy="0.4" dx="0.6">7</tspan></text>
<text transform="translate(606.12,567.35) rotate(-45)" font-size="8.6" fill="#2b2b2b" text-anchor="end">10<tspan font-size="6.0" dy="-4.7" dx="0.5">-</tspan><tspan font-size="6.0" dy="0.4" dx="0.6">6</tspan></text>
<text transform="translate(624.17,567.35) rotate(-45)" font-size="8.6" fill="#2b2b2b" text-anchor="end">10<tspan font-size="6.0" dy="-4.7" dx="0.5">-</tspan><tspan font-size="6.0" dy="0.4" dx="0.6">5</tspan></text>
<text transform="translate(642.22,567.35) rotate(-45)" font-size="8.6" fill="#2b2b2b" text-anchor="end">10<tspan font-size="6.0" dy="-4.7" dx="0.5">-</tspan><tspan font-size="6.0" dy="0.4" dx="0.6">4</tspan></text>
<text transform="translate(662.37,567.35) rotate(-45)" font-size="8.6" fill="#2b2b2b" text-anchor="end">10<tspan font-size="6.0" dy="-4.7" dx="0.5">-</tspan><tspan font-size="6.0" dy="0.4" dx="0.6">2</tspan></text>
<text transform="translate(676.66,564.99) rotate(-45)" font-size="8.6" fill="#2b2b2b" text-anchor="end">1</text>
<circle cx="312.2" cy="609.4" r="3.75" fill="#0077BB"/>
<text x="320.25" y="613.1" font-size="10.5" fill="#2b2b2b" textLength="19.3" lengthAdjust="spacingAndGlyphs">PRS</text>
<text x="339.6" y="608.4" font-size="7.3" fill="#2b2b2b" textLength="13.3" lengthAdjust="spacingAndGlyphs">EUR</text>
<circle cx="372.6" cy="609.4" r="3.75" fill="#CC3311"/>
<text x="381.0" y="613.1" font-size="10.5" fill="#2b2b2b" textLength="19.3" lengthAdjust="spacingAndGlyphs">PRS</text>
<text x="399.9" y="608.5" font-size="7.3" fill="#2b2b2b" textLength="21.6" lengthAdjust="spacingAndGlyphs">COMB</text>
</svg></body></html>
